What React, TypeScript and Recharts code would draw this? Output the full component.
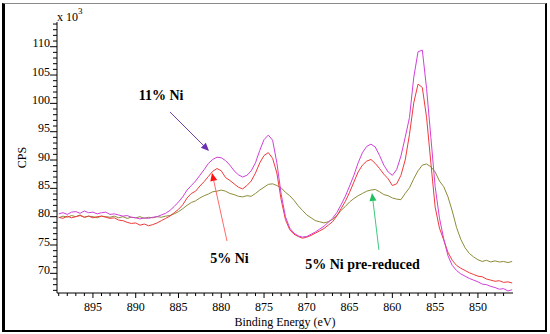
import React from 'react';
import { LineChart, Line, XAxis, YAxis, ReferenceLine, ReferenceDot } from 'recharts';

const energies = [
  899.0, 898.5, 898.0, 897.5, 897.0, 896.5, 896.0, 895.5, 895.0, 894.5,
  894.0, 893.5, 893.0, 892.5, 892.0, 891.5, 891.0, 890.5, 890.0, 889.5,
  889.0, 888.5, 888.0, 887.5, 887.0, 886.5, 886.0, 885.5, 885.0, 884.5,
  884.0, 883.5, 883.0, 882.5, 882.0, 881.5, 881.0, 880.5, 880.0, 879.5,
  879.0, 878.5, 878.0, 877.5, 877.0, 876.5, 876.0, 875.5, 875.0, 874.5,
  874.0, 873.5, 873.0, 872.5, 872.0, 871.5, 871.0, 870.5, 870.0, 869.5,
  869.0, 868.5, 868.0, 867.5, 867.0, 866.5, 866.0, 865.5, 865.0, 864.5,
  864.0, 863.5, 863.0, 862.5, 862.0, 861.5, 861.0, 860.5, 860.0, 859.5,
  859.0, 858.5, 858.0, 857.5, 857.0, 856.5, 856.0, 855.5, 855.0, 854.5,
  854.0, 853.5, 853.0, 852.5, 852.0, 851.5, 851.0, 850.5, 850.0, 849.5,
  849.0, 848.5, 848.0, 847.5, 847.0, 846.5, 846.0,
];

// 11% Ni (magenta)
const ni11 = [
  80.5, 80.7, 80.4, 80.8, 80.9, 80.6, 81.0, 80.7, 80.8, 80.5,
  80.7, 80.8, 80.4, 80.5, 80.3, 80.1, 80.2, 79.9, 79.8, 79.6,
  79.8, 79.7, 79.9, 80.0, 80.3, 80.6, 81.1, 81.8, 82.6, 83.5,
  84.7, 85.5, 86.3, 87.3, 88.3, 89.4, 90.1, 90.5, 90.4, 89.9,
  89.1, 88.1, 87.4, 87.0, 87.3, 88.1, 89.5, 91.7, 93.6, 94.4,
  93.5, 89.5, 84.0, 80.0, 78.0, 77.1, 76.6, 76.4, 76.5, 76.9,
  77.3, 77.8, 78.3, 79.0, 79.7, 80.7, 82.1, 83.6, 85.4, 87.3,
  89.5, 91.3, 92.4, 92.8, 92.3, 90.8, 89.1, 87.9, 87.3, 88.3,
  90.7, 94.0, 97.5, 104.6, 109.1, 109.4, 102.6, 94.0, 85.3, 79.8,
  76.1, 73.1, 71.4, 70.5, 69.9, 69.5, 69.1, 68.8, 68.5, 68.1,
  68.0, 67.7, 67.5, 67.2, 67.3, 66.9, 67.1,
];

// 5% Ni (red)
const ni5 = [
  79.9, 79.7, 80.1, 79.8, 80.0, 80.2, 79.9, 80.1, 79.8, 80.0,
  80.1, 79.9, 79.7, 79.8, 79.4, 79.3, 79.0, 78.8, 78.9, 78.5,
  78.7, 78.4, 78.6, 78.9, 79.3, 79.7, 80.1, 80.7, 81.3, 82.1,
  83.3, 84.1, 84.5, 85.4, 86.2, 87.1, 88.0, 88.5, 88.1, 86.9,
  86.4, 85.8, 85.2, 84.9, 85.5, 86.3, 87.7, 89.5, 90.8, 91.3,
  90.3, 87.7, 83.0, 79.5, 77.7, 76.9, 76.5, 76.2, 76.4, 76.7,
  77.1, 77.5, 77.9, 78.5, 79.1, 80.1, 81.4, 82.7, 84.3, 86.1,
  87.9, 89.1, 89.8, 90.1, 89.4, 88.5, 87.5, 86.7, 85.5, 85.8,
  87.3, 90.0, 94.5, 100.1, 103.4, 102.8, 97.5, 89.5, 81.7, 78.0,
  75.9, 73.7, 72.3, 71.4, 70.9, 70.5, 70.1, 69.8, 69.5, 69.4,
  69.0, 68.8, 68.6, 68.7, 68.4, 68.5, 68.3,
];

// 5% Ni pre-reduced (olive)
const ni5pre = [
  79.8, 80.1, 79.9, 80.2, 80.0, 80.3, 79.9, 80.1, 80.0, 79.8,
  80.1, 80.0, 79.9, 80.1, 79.8, 80.0, 79.7, 79.9, 79.8, 80.0,
  79.7, 79.9, 79.8, 80.0, 79.9, 80.1, 80.2, 80.5, 80.9, 81.4,
  82.0, 82.5, 82.8, 83.3, 83.7, 84.0, 84.4, 84.5, 84.7, 84.5,
  84.1, 83.9, 83.6, 83.5, 83.7, 83.6, 84.1, 84.7, 85.2, 85.7,
  85.8, 85.5, 85.1, 84.3, 83.7, 82.9, 81.9, 81.1, 80.3, 79.8,
  79.3, 79.1, 78.9, 79.1, 79.5, 80.2, 81.1, 81.8, 82.6, 83.2,
  83.7, 84.1, 84.5, 84.7, 84.8, 84.4, 83.9, 83.7, 83.3, 83.1,
  83.0, 84.1, 85.1, 86.7, 88.1, 89.1, 89.3, 88.8, 87.9, 86.3,
  85.3, 83.5, 81.0, 78.1, 76.0, 74.5, 73.5, 72.9, 72.4, 72.1,
  72.3, 72.0, 72.2, 72.0, 72.1, 71.9, 72.1,
];

const xTicks = [
  847, 848, 849, 850, 851, 852, 853, 854, 855, 856, 857, 858, 859, 860, 861, 862, 863,
  864, 865, 866, 867, 868, 869, 870, 871, 872, 873, 874, 875, 876, 877, 878, 879, 880,
  881, 882, 883, 884, 885, 886, 887, 888, 889, 890, 891, 892, 893, 894, 895, 896, 897,
  898, 899,
];
const yTicks = [
  67, 68, 69, 70, 71, 72, 73, 74, 75, 76, 77, 78, 79, 80, 81, 82, 83, 84, 85, 86, 87,
  88, 89, 90, 91, 92, 93, 94, 95, 96, 97, 98, 99, 100, 101, 102, 103, 104, 105, 106,
  107, 108, 109, 110, 111, 112, 113, 114,
];

const labelTexts = ['11% Ni', '5% Ni', '5% Ni pre-reduced'];
const labelX = [887.04, 879.04, 863.49];
const labelY = [101.3, 72.54, 71.48];

// arrows: [tailX, tailY, headX, headY]
const arrowPurple = [886.0, 98.48, 881.43, 91.6];
const arrowRed = [879.33, 75.71, 881.08, 87.71];
const arrowGreen = [861.57, 74.13, 862.38, 84.2];

const data = energies.map((e, i) => ({ e, a: ni11[i], b: ni5[i], c: ni5pre[i] }));

const SERIF = "'Liberation Serif', 'Times New Roman', serif";

const XTick = (props: any) => {
  const { x, y, payload } = props;
  const v = payload.value;
  const major = v % 5 === 0;
  return (
    <g>
      <line x1={x} x2={x} y1={y} y2={y + (major ? 5 : 3)} stroke="#000" strokeWidth={1} />
      {major && (
        <text x={x} y={y + 18} textAnchor="middle" fontSize={12} fontFamily={SERIF} fill="#000">
          {v}
        </text>
      )}
    </g>
  );
};

const YTick = (props: any) => {
  const { x, y, payload } = props;
  const v = payload.value;
  const major = v % 5 === 0;
  return (
    <g>
      <line x1={x - (major ? 7 : 4)} x2={x} y1={y} y2={y} stroke="#000" strokeWidth={1} />
      {major && (
        <text x={x - 7} y={y + 0.5} textAnchor="end" fontSize={12} fontFamily={SERIF} fill="#000">
          {v}
        </text>
      )}
    </g>
  );
};

const yLabel = (props: any) => {
  const vb = props.viewBox || { x: 0, y: 22, width: 57, height: 271 };
  const cx = vb.x + 22;
  const cy = vb.y + vb.height / 2;
  const right = vb.x + vb.width;
  return (
    <g>
      <text
        x={cx}
        y={cy}
        transform={`rotate(-90 ${cx} ${cy})`}
        textAnchor="middle"
        dominantBaseline="central"
        fontSize={12}
        fontFamily={SERIF}
        fill="#000"
      >
        CPS
      </text>
      <text x={right} y={vb.y - 1} fontSize={12} fontFamily={SERIF} fill="#000">
        x 10
        <tspan fontSize={9} dy={-7}>3</tspan>
      </text>
    </g>
  );
};

const xLabel = (props: any) => {
  const vb = props.viewBox || { x: 57, y: 293, width: 456, height: 41 };
  return (
    <text
      x={vb.x + vb.width / 2}
      y={vb.y + 33}
      textAnchor="middle"
      fontSize={12}
      fontFamily={SERIF}
      fill="#000"
    >
      Binding Energy (eV)
    </text>
  );
};

const makeArrow = (lineColor: string, headColor: string) => (props: any) => {
  const { x1, y1, x2, y2 } = props;
  const dx = x2 - x1;
  const dy = y2 - y1;
  const len = Math.hypot(dx, dy) || 1;
  const ux = dx / len;
  const uy = dy / len;
  const hl = 8;
  const hw = 3.5;
  const bx = x2 - ux * hl;
  const by = y2 - uy * hl;
  const pts = `${x2},${y2} ${bx - uy * hw},${by + ux * hw} ${bx + uy * hw},${by - ux * hw}`;
  return (
    <g>
      <line x1={x1} y1={y1} x2={bx} y2={by} stroke={lineColor} strokeWidth={1} />
      <polygon points={pts} fill={headColor} />
    </g>
  );
};

const makeText = (t: string) => (props: any) => (
  <text
    x={props.cx}
    y={props.cy}
    textAnchor="middle"
    dominantBaseline="central"
    fontSize={14}
    fontWeight="bold"
    fontFamily={SERIF}
    fill="#000"
  >
    {t}
  </text>
);

const arrows = [
  { a: arrowPurple, line: '#7040b0', head: '#6a30b0' },
  { a: arrowRed, line: '#ff6a6a', head: '#ff1010' },
  { a: arrowGreen, line: '#40c880', head: '#20c060' },
];

export default function App() {
  return (
    <div style={{ position: 'absolute', left: 0, top: 0, width: 550, height: 334, background: '#fff' }}>
      <LineChart
        width={550}
        height={334}
        data={data}
        margin={{ top: 22, right: 37, bottom: 0, left: 0 }}
      >
        <XAxis
          dataKey="e"
          type="number"
          domain={[845.9, 899.2]}
          reversed
          allowDataOverflow
          ticks={xTicks}
          interval={0}
          tick={XTick}
          tickLine={false}
          tickSize={0}
          tickMargin={0}
          axisLine={{ stroke: '#000', strokeWidth: 1 }}
          height={41}
          label={xLabel}
        />
        <XAxis
          xAxisId="top"
          dataKey="e"
          type="number"
          orientation="top"
          domain={[845.9, 899.2]}
          reversed
          allowDataOverflow
          tick={false}
          tickLine={false}
          axisLine={{ stroke: '#8a8a8a', strokeWidth: 1 }}
          height={0}
        />
        <YAxis
          type="number"
          domain={[66.53, 114.36]}
          allowDataOverflow
          ticks={yTicks}
          interval={0}
          tick={YTick}
          tickLine={false}
          tickSize={0}
          tickMargin={0}
          axisLine={{ stroke: '#000', strokeWidth: 1 }}
          width={57}
          label={yLabel}
        />
        <YAxis
          yAxisId="r"
          type="number"
          orientation="right"
          domain={[66.53, 114.36]}
          allowDataOverflow
          tick={false}
          tickLine={false}
          axisLine={{ stroke: '#8a8a8a', strokeWidth: 1 }}
          width={0}
        />
        <Line type="linear" dataKey="c" stroke="#8c8c3a" strokeWidth={1} dot={false} isAnimationActive={false} />
        <Line type="linear" dataKey="b" stroke="#f03a3a" strokeWidth={1} dot={false} isAnimationActive={false} />
        <Line type="linear" dataKey="a" stroke="#d040d8" strokeWidth={1} dot={false} isAnimationActive={false} />
        {arrows.map((ar, i) => (
          <ReferenceLine
            key={'ar' + i}
            segment={[
              { x: ar.a[0], y: ar.a[1] },
              { x: ar.a[2], y: ar.a[3] },
            ]}
            ifOverflow="visible"
            shape={makeArrow(ar.line, ar.head)}
          />
        ))}
        {labelTexts.map((t, i) => (
          <ReferenceDot
            key={'lb' + i}
            x={labelX[i]}
            y={labelY[i]}
            r={0}
            ifOverflow="visible"
            shape={makeText(t)}
          />
        ))}
      </LineChart>
      <div
        style={{
          position: 'absolute',
          left: 2,
          top: 3,
          width: 545,
          height: 329,
          boxSizing: 'border-box',
          borderLeft: '3px solid #000',
          borderTop: '1px solid #8a8a8a',
          borderRight: '2px solid #000',
          borderBottom: '2px solid #000',
          pointerEvents: 'none',
        }}
      />
    </div>
  );
}
